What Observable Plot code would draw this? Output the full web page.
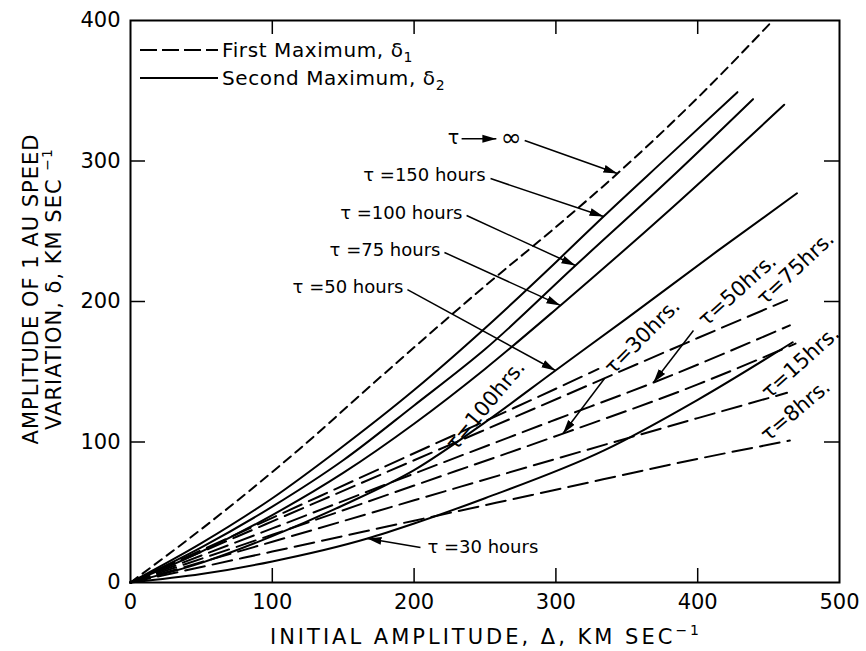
<!DOCTYPE html>
<html>
<head>
<meta charset="utf-8">
<script src="https://cdn.jsdelivr.net/npm/d3@7"></script>
<script src="https://cdn.jsdelivr.net/npm/@observablehq/plot@0.6"></script>
<style>
  html, body { margin: 0; padding: 0; background: #fff; }
  #chart { width: 866px; height: 651px; }
</style>
</head>
<body>
<div id="chart"></div>
<script>
// Initial amplitude Δ (km/s) against the 1 AU speed amplitude δ (km/s).

// τ → ∞
const infDelta = [0, 50, 118, 176, 250, 300, 343.4, 400, 453];
const infAmp   = [0, 38, 94, 146, 211, 253, 291.1, 345, 400];

// Second maximum δ2
const s150Delta = [0, 50, 100, 146, 200, 250, 300, 333.6, 380, 428];
const s150Amp   = [0, 28, 60, 94, 137, 181, 228, 260.5, 304, 349];
const s100Delta = [0, 50, 100, 150, 200, 250, 313.8, 380, 439];
const s100Amp   = [0, 25, 54, 87, 126, 166, 225.6, 287, 344];
const s75Delta  = [0, 50, 100, 150, 200, 250, 303.2, 380, 461];
const s75Amp    = [0, 22, 48, 78, 113, 152, 197.2, 265, 340];
const s50Delta  = [0, 50, 100, 150, 200, 250, 299.7, 350, 414, 470];
const s50Amp    = [0, 14, 33, 55, 80, 114, 150.9, 188, 236, 277];
const s30Delta  = [0, 50, 100, 167.1, 200, 250, 334, 400, 467];
const s30Amp    = [0, 6, 15, 31.3, 42, 60, 94, 130, 171];

// First maximum δ1
const f100Delta = [0, 100, 200, 270, 330];
const f100Amp   = [0, 46, 92, 124, 152];
const f75Delta  = [0, 100, 200, 303, 400, 463];
const f75Amp    = [0, 43.5, 87, 131.7, 174, 201];
const f50Delta  = [0, 100, 200, 300, 368.8, 465];
const f50Amp    = [0, 38.5, 77.5, 116, 142.3, 183];
const f30Delta  = [0, 100, 200, 305, 400, 469];
const f30Amp    = [0, 34, 69, 106, 141, 170];
const f15Delta  = [0, 100, 200, 300, 400, 463];
const f15Amp    = [0, 29, 58.5, 88, 117, 135];
const f8Delta   = [0, 100, 200, 300, 400, 465];
const f8Amp     = [0, 22, 44, 66, 88, 101];

// Axis ticks
const xTicks = [0, 100, 200, 300, 400, 500];
const yTicks = [0, 100, 200, 300, 400];

// Curve annotations: text, its anchor point, and the point the arrow touches
const leaderText  = ["τ =150 hours", "τ =100 hours", "τ =75 hours", "τ =50 hours", "τ =30 hours"];
const leaderTextX = [250.4, 234.1, 218.6, 192.5, 209.4];
const leaderTextY = [289.7, 262.6, 236.3, 210.0, 24.9];
const leaderAnchor = ["end", "end", "end", "end", "start"];
const leaderFromX = [253.9, 237.0, 221.4, 195.3, 204.5];
const leaderFromY = [287.5, 261.2, 234.9, 208.5, 24.9];
const leaderToX   = [333.6, 313.8, 303.2, 299.7, 167.1];
const leaderToY   = [260.5, 225.6, 197.2, 150.9, 31.3];

// τ → ∞ label: symbol, short arrow, infinity sign, leader to the curve
const infLabelX = [227.8, 268.5];
const infLabelY = [316.5, 316.2];
const infLabelText = ["τ", "∞"];
const infArrowX = [233.5, 258];
const infArrowY = [315.8, 315.8];
const infLeaderFrom = [278, 314.6];
const infLeaderTo = [343.4, 291.1];

// Slanted labels on the first-maximum curves
const slantText = ["τ=100hrs.", "τ=30hrs.", "τ=50hrs.", "τ=75hrs.", "τ=15hrs.", "τ=8hrs."];
const slantX    = [250.4, 361, 428, 469, 472.5, 469];
const slantY    = [126, 175, 208, 223.5, 156.6, 122.4];
const slantAngle = [-50, -45, -42, -43, -42, -40];
const slantArrowFromX = [null, 334.3, 397.0];
const slantArrowFromY = [null, 145.2, 179.4];
const slantArrowToX   = [null, 305, 368.8];
const slantArrowToY   = [null, 106, 142.3];

function rows(name, xs, ys) {
  return xs.map((x, i) => ({name, delta: x, amp: ys[i]}));
}

const solid = [
  ...rows("150", s150Delta, s150Amp),
  ...rows("100", s100Delta, s100Amp),
  ...rows("75", s75Delta, s75Amp),
  ...rows("50", s50Delta, s50Amp),
  ...rows("30", s30Delta, s30Amp)
];
const dashed = [
  ...rows("100", f100Delta, f100Amp),
  ...rows("75", f75Delta, f75Amp),
  ...rows("50", f50Delta, f50Amp),
  ...rows("30", f30Delta, f30Amp),
  ...rows("15", f15Delta, f15Amp),
  ...rows("8", f8Delta, f8Amp)
];
const infinite = rows("inf", infDelta, infAmp);

const leaders = leaderText.map((t, i) => ({
  text: t, x: leaderTextX[i], y: leaderTextY[i], anchor: leaderAnchor[i],
  x1: leaderFromX[i], y1: leaderFromY[i], x2: leaderToX[i], y2: leaderToY[i]
}));
const slants = slantText.map((t, i) => ({text: t, x: slantX[i], y: slantY[i], angle: slantAngle[i]}));
const slantArrows = slantArrowFromX
  .map((x1, i) => ({x1, y1: slantArrowFromY[i], x2: slantArrowToX[i], y2: slantArrowToY[i]}))
  .filter(d => d.x1 != null);
const infLabels = infLabelText.map((t, i) => ({text: t, x: infLabelX[i], y: infLabelY[i]}));
const arrows = [
  ...leaders.map(({x1, y1, x2, y2}) => ({x1, y1, x2, y2})),
  ...slantArrows,
  {x1: infArrowX[0], y1: infArrowY[0], x2: infArrowX[1], y2: infArrowY[1]},
  {x1: infLeaderFrom[0], y1: infLeaderFrom[1], x2: infLeaderTo[0], y2: infLeaderTo[1]}
];

const font = "DejaVu Sans, sans-serif";

const chart = Plot.plot({
  width: 866,
  height: 651,
  marginTop: 20,
  marginRight: 27,
  marginBottom: 69,
  marginLeft: 130,
  style: {fontFamily: font, fontSize: "21px", background: "#fff", color: "#000"},
  x: {domain: [0, 500]},
  y: {domain: [0, 400]},
  marks: [
    Plot.line(infinite, {x: "delta", y: "amp", stroke: "#000", strokeWidth: 2, strokeDasharray: "9,6", curve: "monotone-x"}),
    Plot.line(solid, {x: "delta", y: "amp", z: "name", stroke: "#000", strokeWidth: 2, curve: "monotone-x"}),
    Plot.line(dashed, {x: "delta", y: "amp", z: "name", stroke: "#000", strokeWidth: 2, strokeDasharray: "20,8", curve: "monotone-x"}),
    Plot.link(arrows, {x1: "x1", y1: "y1", x2: "x2", y2: "y2", stroke: "#000", strokeWidth: 1.5}),
    Plot.text(leaders.filter(d => d.anchor === "end"), {x: "x", y: "y", text: "text", textAnchor: "end", fill: "#000", fontSize: 18}),
    Plot.text(leaders.filter(d => d.anchor === "start"), {x: "x", y: "y", text: "text", textAnchor: "start", fill: "#000", fontSize: 18}),
    Plot.text(infLabels.slice(0, 1), {x: "x", y: "y", text: "text", fill: "#000", fontSize: 19}),
    Plot.text(infLabels.slice(1), {x: "x", y: "y", text: "text", fill: "#000", fontSize: 25}),
    Plot.text(slants, {x: "x", y: "y", text: "text", rotate: d => d.angle, fill: "#000", fontSize: 21}),
    Plot.frame({stroke: "#000", strokeWidth: 2}),
    Plot.axisX(xTicks, {anchor: "bottom", tickSize: 0, tickPadding: 12, label: null}),
    Plot.axisY(yTicks, {anchor: "left", tickSize: 0, tickPadding: 10, label: null}),
    Plot.axisX(xTicks.slice(1, -1), {anchor: "bottom", tickSize: -14, tickFormat: () => "", label: null, strokeWidth: 1.5}),
    Plot.axisX(xTicks.slice(1, -1), {anchor: "top", tickSize: -13, tickFormat: () => "", label: null, strokeWidth: 1.5}),
    Plot.axisY(yTicks.slice(1, -1), {anchor: "left", tickSize: -15, tickFormat: () => "", label: null, strokeWidth: 1.5}),
    Plot.axisY(yTicks.slice(1, -1), {anchor: "right", tickSize: -16, tickFormat: () => "", label: null, strokeWidth: 1.5})
  ]
});

document.getElementById("chart").appendChild(chart);

// Filled arrowheads on the leader lines
const svg = d3.select(chart);
svg.insert("defs", ":first-child")
  .append("marker")
  .attr("id", "head")
  .attr("viewBox", "0 -5 14 10")
  .attr("refX", 14).attr("refY", 0)
  .attr("markerUnits", "userSpaceOnUse")
  .attr("markerWidth", 14).attr("markerHeight", 10)
  .attr("orient", "auto")
  .append("path").attr("d", "M0,-4L14,0L0,4Z").attr("fill", "#000");
svg.selectAll('g[aria-label="link"] path').attr("marker-end", "url(#head)");

// Legend
const legend = svg.append("g").attr("font-family", font).attr("font-size", 20)
  .attr("fill", "#000").attr("text-anchor", "start");
legend.append("line").attr("x1", 140).attr("x2", 218).attr("y1", 50).attr("y2", 50)
  .attr("stroke", "#000").attr("stroke-width", 2).attr("stroke-dasharray", "17,5");
legend.append("line").attr("x1", 140).attr("x2", 218).attr("y1", 78).attr("y2", 78)
  .attr("stroke", "#000").attr("stroke-width", 2);
const l1 = legend.append("text").attr("x", 222).attr("y", 57).attr("letter-spacing", 0.6);
l1.append("tspan").text("First Maximum, δ");
l1.append("tspan").attr("font-size", 14).attr("dy", 5).text("1");
const l2 = legend.append("text").attr("x", 222).attr("y", 85).attr("letter-spacing", 0.6);
l2.append("tspan").text("Second Maximum, δ");
l2.append("tspan").attr("font-size", 14).attr("dy", 5).text("2");

// Axis titles
const xt = svg.append("text").attr("x", 486).attr("y", 644).attr("text-anchor", "middle")
  .attr("font-family", font).attr("font-size", 21).attr("letter-spacing", 3).attr("fill", "#000");
xt.append("tspan").text("INITIAL AMPLITUDE, Δ, KM SEC");
xt.append("tspan").attr("font-size", 14).attr("dy", -9).text("−1");

const yt = svg.append("g").attr("transform", "translate(0,289) rotate(-90)")
  .attr("font-family", font).attr("font-size", 21).attr("letter-spacing", 1)
  .attr("fill", "#000").attr("text-anchor", "middle");
yt.append("text").attr("x", 0).attr("y", 38).text("AMPLITUDE OF 1 AU SPEED");
const yt2 = yt.append("text").attr("x", 0).attr("y", 61);
yt2.append("tspan").text("VARIATION, δ, KM SEC ");
yt2.append("tspan").attr("font-size", 14).attr("dy", -9).text("−1");
</script>
</body>
</html>
